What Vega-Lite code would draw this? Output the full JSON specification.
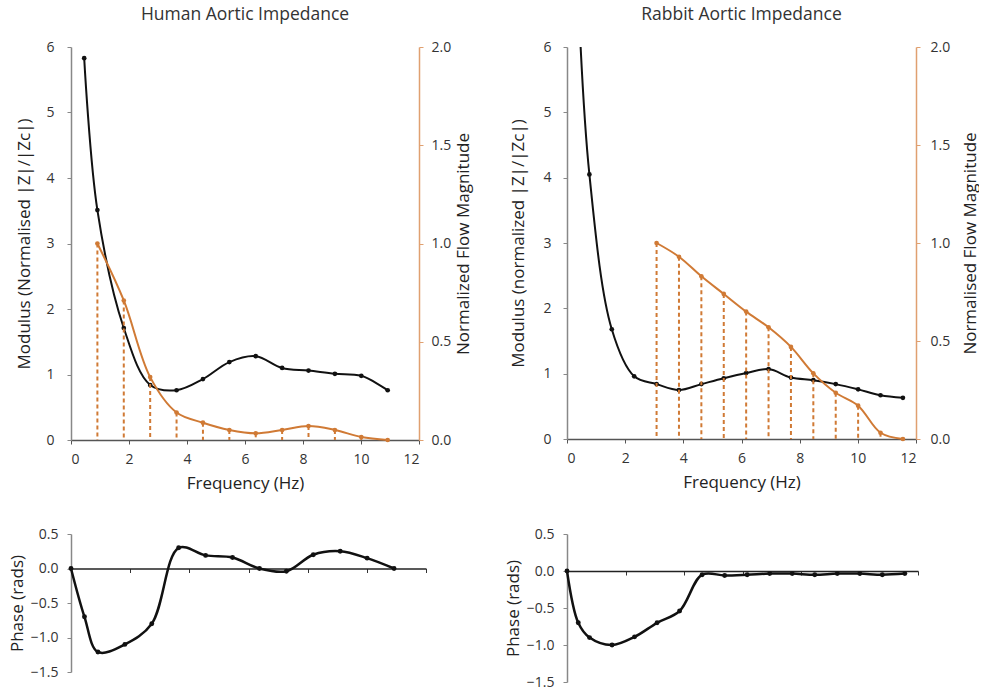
{
  "$schema": "https://vega.github.io/schema/vega-lite/v6.json",
  "padding": {"left": 8, "top": 6, "right": 0, "bottom": 0},
  "config": {
    "view": {"stroke": null},
    "font": "Open Sans",
    "axis": {"grid": false, "labelFontSize": 14, "titleFontSize": 17, "titleFontWeight": "normal", "labelColor": "#333", "titleColor": "#222", "domainColor": "#888", "tickColor": "#888", "domainWidth": 1.5, "tickSize": 4, "labelOverlap": false},
    "title": {"fontSize": 17.5, "fontWeight": "normal", "color": "#333"}
  },
  "datasets": {
    "humanMod": [
      {"f": 0.455, "v": 5.83}, {"f": 0.91, "v": 3.51}, {"f": 1.82, "v": 1.71}, {"f": 2.73, "v": 0.84},
      {"f": 3.64, "v": 0.76}, {"f": 4.55, "v": 0.93}, {"f": 5.46, "v": 1.19}, {"f": 6.37, "v": 1.28},
      {"f": 7.28, "v": 1.10}, {"f": 8.19, "v": 1.06}, {"f": 9.10, "v": 1.01}, {"f": 10.01, "v": 0.98},
      {"f": 10.92, "v": 0.76}
    ],
    "humanFlow": [
      {"f": 0.91, "v": 1.0}, {"f": 1.82, "v": 0.71}, {"f": 2.73, "v": 0.32}, {"f": 3.64, "v": 0.14},
      {"f": 4.55, "v": 0.088}, {"f": 5.46, "v": 0.051}, {"f": 6.37, "v": 0.034}, {"f": 7.28, "v": 0.051},
      {"f": 8.19, "v": 0.071}, {"f": 9.10, "v": 0.051}, {"f": 10.01, "v": 0.015}, {"f": 10.92, "v": 0.0}
    ],
    "humanPhase": [
      {"f": 0, "v": 0}, {"f": 0.455, "v": -0.70}, {"f": 0.91, "v": -1.21}, {"f": 1.82, "v": -1.10},
      {"f": 2.73, "v": -0.80}, {"f": 3.64, "v": 0.30}, {"f": 4.55, "v": 0.19}, {"f": 5.46, "v": 0.16},
      {"f": 6.37, "v": 0.0}, {"f": 7.28, "v": -0.04}, {"f": 8.19, "v": 0.20}, {"f": 9.10, "v": 0.25},
      {"f": 10.01, "v": 0.15}, {"f": 10.92, "v": 0.0}
    ],
    "rabbitMod": [
      {"f": 0.385, "v": 6.8}, {"f": 0.77, "v": 4.05}, {"f": 1.54, "v": 1.68}, {"f": 2.31, "v": 0.96},
      {"f": 3.08, "v": 0.84}, {"f": 3.85, "v": 0.75}, {"f": 4.62, "v": 0.84}, {"f": 5.39, "v": 0.93},
      {"f": 6.16, "v": 1.01}, {"f": 6.93, "v": 1.07}, {"f": 7.70, "v": 0.94}, {"f": 8.47, "v": 0.90},
      {"f": 9.24, "v": 0.84}, {"f": 10.01, "v": 0.76}, {"f": 10.78, "v": 0.67}, {"f": 11.55, "v": 0.63}
    ],
    "rabbitFlow": [
      {"f": 3.08, "v": 1.0}, {"f": 3.85, "v": 0.93}, {"f": 4.62, "v": 0.83}, {"f": 5.39, "v": 0.74},
      {"f": 6.16, "v": 0.65}, {"f": 6.93, "v": 0.57}, {"f": 7.70, "v": 0.47}, {"f": 8.47, "v": 0.335},
      {"f": 9.24, "v": 0.236}, {"f": 10.01, "v": 0.17}, {"f": 10.78, "v": 0.032}, {"f": 11.55, "v": 0.0}
    ],
    "rabbitPhase": [
      {"f": 0, "v": 0}, {"f": 0.385, "v": -0.70}, {"f": 0.77, "v": -0.90}, {"f": 1.54, "v": -1.00},
      {"f": 2.31, "v": -0.89}, {"f": 3.08, "v": -0.70}, {"f": 3.85, "v": -0.54}, {"f": 4.62, "v": -0.05},
      {"f": 5.39, "v": -0.06}, {"f": 6.16, "v": -0.05}, {"f": 6.93, "v": -0.035}, {"f": 7.70, "v": -0.035},
      {"f": 8.47, "v": -0.05}, {"f": 9.24, "v": -0.035}, {"f": 10.01, "v": -0.035}, {"f": 10.78, "v": -0.05},
      {"f": 11.55, "v": -0.035}
    ]
  },
  "columns": 2,
  "align": "each",
  "spacing": {"row": 36, "column": 32},
  "concat": [
    {
      "title": {"text": "Human Aortic Impedance", "offset": 16.5},
      "width": 348,
      "height": 393,
      "layer": [
        {
          "data": {"name": "humanMod"},
          "mark": {"type": "line", "color": "#111", "strokeWidth": 2, "interpolate": "catmull-rom", "clip": true, "point": {"filled": true, "size": 22, "color": "#111"}},
          "encoding": {
            "x": {"field": "f", "type": "quantitative", "scale": {"domain": [0, 12], "nice": false}, "axis": {"title": "Frequency (Hz)", "values": [0, 2, 4, 6, 8, 10, 12], "domainColor": "#555", "tickColor": "#555", "labelPadding": 8, "titlePadding": 9}},
            "y": {"field": "v", "type": "quantitative", "scale": {"domain": [0, 6], "nice": false}, "axis": {"title": "Modulus (Normalised |Z|/|Zc|)", "values": [0, 1, 2, 3, 4, 5, 6], "labelPadding": 13, "titlePadding": 12}}
          }
        },
        {
          "data": {"name": "humanFlow"},
          "layer": [
            {
              "mark": {"type": "rule", "color": "#D07A35", "strokeWidth": 2, "strokeDash": [4, 3]},
              "encoding": {
                "x": {"field": "f", "type": "quantitative"},
                "y": {"field": "v", "type": "quantitative", "scale": {"domain": [0, 2], "nice": false}, "axis": {"orient": "right", "title": "Normalized Flow Magnitude", "titleAngle": 270, "titleBaseline": "top", "values": [0, 0.5, 1, 1.5, 2], "format": ".1f", "domainColor": "#E0A070", "tickColor": "#E0A070", "labelPadding": 8, "titlePadding": 5}},
                "y2": {"datum": 0}
              }
            },
            {
              "mark": {"type": "line", "color": "#D07A35", "strokeWidth": 2, "interpolate": "catmull-rom", "point": {"filled": true, "size": 22, "color": "#D07A35"}},
              "encoding": {
                "x": {"field": "f", "type": "quantitative"},
                "y": {"field": "v", "type": "quantitative"}
              }
            }
          ]
        }
      ],
      "resolve": {"scale": {"y": "independent"}}
    },
    {
      "title": {"text": "Rabbit Aortic Impedance", "offset": 16.5},
      "width": 349,
      "height": 392,
      "layer": [
        {
          "data": {"name": "rabbitMod"},
          "mark": {"type": "line", "color": "#111", "strokeWidth": 2, "interpolate": "catmull-rom", "clip": true, "point": {"filled": true, "size": 22, "color": "#111"}},
          "encoding": {
            "x": {"field": "f", "type": "quantitative", "scale": {"domain": [0, 12], "nice": false}, "axis": {"title": "Frequency (Hz)", "values": [0, 2, 4, 6, 8, 10, 12], "domainColor": "#555", "tickColor": "#555", "labelPadding": 8, "titlePadding": 9}},
            "y": {"field": "v", "type": "quantitative", "scale": {"domain": [0, 6], "nice": false}, "axis": {"title": "Modulus (normalized |Z|/|Zc|)", "values": [0, 1, 2, 3, 4, 5, 6], "labelPadding": 12, "titlePadding": 15}}
          }
        },
        {
          "data": {"name": "rabbitFlow"},
          "layer": [
            {
              "mark": {"type": "rule", "color": "#D07A35", "strokeWidth": 2, "strokeDash": [4, 3]},
              "encoding": {
                "x": {"field": "f", "type": "quantitative"},
                "y": {"field": "v", "type": "quantitative", "scale": {"domain": [0, 2], "nice": false}, "axis": {"orient": "right", "title": "Normalised Flow  Magnitude", "titleAngle": 270, "titleBaseline": "top", "values": [0, 0.5, 1, 1.5, 2], "format": ".1f", "domainColor": "#E0A070", "tickColor": "#E0A070", "labelPadding": 10, "titlePadding": 13}},
                "y2": {"datum": 0}
              }
            },
            {
              "mark": {"type": "line", "color": "#D07A35", "strokeWidth": 2, "interpolate": "catmull-rom", "point": {"filled": true, "size": 22, "color": "#D07A35"}},
              "encoding": {
                "x": {"field": "f", "type": "quantitative"},
                "y": {"field": "v", "type": "quantitative"}
              }
            }
          ]
        }
      ],
      "resolve": {"scale": {"y": "independent"}}
    },
    {
      "width": 355,
      "height": 138,
      "data": {"name": "humanPhase"},
      "mark": {"type": "line", "color": "#111", "strokeWidth": 2.5, "interpolate": "catmull-rom", "point": {"filled": true, "size": 24, "color": "#111"}},
      "encoding": {
        "x": {"field": "f", "type": "quantitative", "scale": {"domain": [0, 12], "nice": false}, "axis": {"title": null, "labels": false, "domain": true, "domainColor": "#222", "values": [0, 2, 4, 6, 8, 10, 12], "tickSize": 4, "tickColor": "#333", "offset": -103.5}},
        "y": {"field": "v", "type": "quantitative", "scale": {"domain": [-1.5, 0.5], "nice": false}, "axis": {"title": "Phase (rads)", "values": [-1.5, -1, -0.5, 0, 0.5], "format": ".1f", "labelOverlap": false, "labelPadding": 9, "titlePadding": 4}}
      }
    },
    {
      "width": 351,
      "height": 148,
      "data": {"name": "rabbitPhase"},
      "mark": {"type": "line", "color": "#111", "strokeWidth": 2.5, "interpolate": "catmull-rom", "point": {"filled": true, "size": 24, "color": "#111"}},
      "encoding": {
        "x": {"field": "f", "type": "quantitative", "scale": {"domain": [0, 12], "nice": false}, "axis": {"title": null, "labels": false, "domain": true, "domainColor": "#222", "values": [0, 2, 4, 6, 8, 10, 12], "tickSize": 4, "tickColor": "#333", "offset": -111}},
        "y": {"field": "v", "type": "quantitative", "scale": {"domain": [-1.5, 0.5], "nice": false}, "axis": {"title": "Phase (rads)", "values": [-1.5, -1, -0.5, 0, 0.5], "format": ".1f", "labelOverlap": false, "labelPadding": 9, "titlePadding": 4}}
      }
    }
  ]
}
